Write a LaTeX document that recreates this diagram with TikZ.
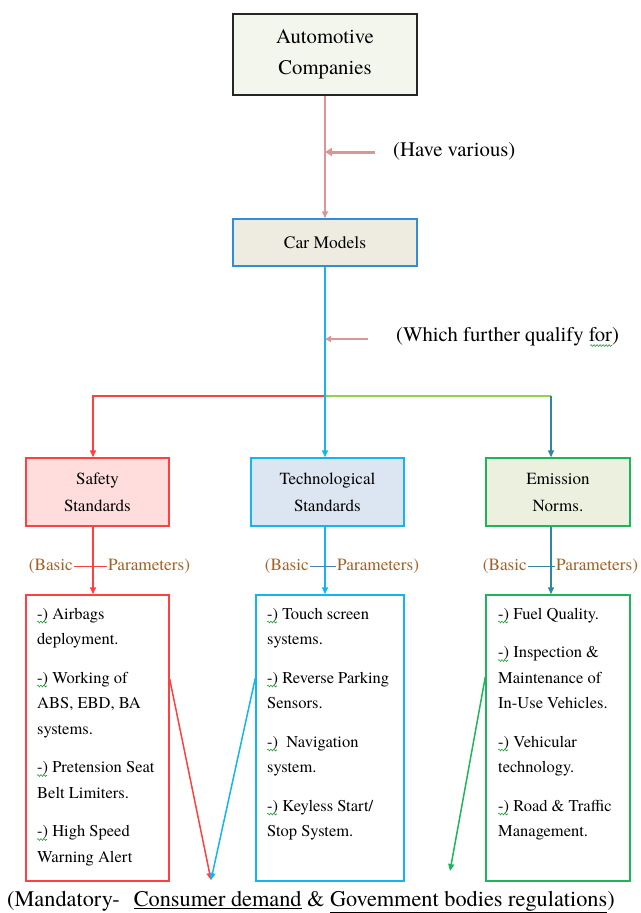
\documentclass[tikz,border=0pt]{standalone}
\usepackage{fontspec}
\IfFontExistsTF{texgyretermes-regular.otf}
  {\setmainfont{texgyretermes}[Extension=.otf, UprightFont=*-regular, BoldFont=*-bold, ItalicFont=*-italic, BoldItalicFont=*-bolditalic]}
  {\setmainfont{Liberation Serif}}
\usetikzlibrary{arrows.meta,calc,decorations.pathmorphing}
\definecolor{pinkln}{RGB}{217,150,148}
\definecolor{skyb}{RGB}{20,180,240}
\definecolor{redln}{RGB}{255,64,64}
\definecolor{grnln}{RGB}{146,208,80}
\definecolor{tealln}{RGB}{49,133,156}
\definecolor{grnbox}{RGB}{30,180,90}
\definecolor{brownt}{RGB}{165,95,35}
\definecolor{topfill}{RGB}{243,246,236}
\definecolor{carfill}{RGB}{238,236,225}
\definecolor{carbord}{RGB}{50,140,215}
\definecolor{safefill}{RGB}{255,221,221}
\definecolor{techfill}{RGB}{220,230,242}
\definecolor{emisfill}{RGB}{235,241,222}
\definecolor{midblue}{RGB}{79,129,189}
\definecolor{spellg}{RGB}{40,160,60}
\begin{document}
\begin{tikzpicture}[x=1pt,y=-1pt,
  box/.style={draw, line width=1.5pt, inner sep=0pt, align=center},
  tip/.style={-{Triangle[length=7pt,width=6pt]}},
  lnk/.style={line width=1.5pt},
  toptxt/.style={font=\fontsize{20.7}{31}\selectfont},
  headtxt/.style={font=\fontsize{17}{27}\selectfont},
  basictxt/.style={font=\fontsize{17.2}{20}\selectfont, text=brownt, inner sep=1pt},
  listtxt/.style={anchor=base west, inner sep=0pt, font=\fontsize{16.5}{25.5}\selectfont},
  squig/.style={draw=spellg, line width=0.6pt, decorate, decoration={snake, segment length=3pt, amplitude=0.9pt}}
]
\useasboundingbox (0,0) rectangle (640,913);

% top boxes
\node[box, draw=black!85, fill=topfill, minimum width=184pt, minimum height=81pt, toptxt] (auto) at (325,54.5) {Automotive\\Companies};
\node[box, draw=carbord, fill=carfill, minimum width=184pt, minimum height=47pt, font=\fontsize{17.5}{21}\selectfont] (car) at (325,242.5) {Car Models};
\draw[pinkln, lnk, tip] (auto.south) -- (car.north);

\node[anchor=west, inner sep=0pt, toptxt] (hvl) at (393,151) {(Have various)};
\draw[pinkln, line width=3pt, -{Triangle[length=7pt,width=8pt]}] ($(hvl.west)+(-18,1)$) -- (auto.south |- {$(hvl.west)+(0,1)$});

% standards boxes
\node[box, draw=redln, fill=safefill, minimum width=143pt, minimum height=68pt, headtxt] (safety) at (97.5,492) {Safety\\Standards};
\node[box, draw=skyb, fill=techfill, minimum width=153pt, minimum height=68pt, headtxt] (tech) at (327.5,492) {Technological\\Standards};
\node[box, draw=grnbox, fill=emisfill, minimum width=144pt, minimum height=68pt, headtxt] (emis) at (558,492) {Emission\\Norms.};

\coordinate (split) at (325,396);
\coordinate (sx) at (93,396);
\coordinate (ex) at (551,396);
\draw[redln, lnk, tip] (split) -- (sx) -- (sx |- safety.north);
\draw[grnln, lnk] (split) -- (ex);
\draw[tealln, lnk, tip] (ex) -- (ex |- emis.north);
\draw[skyb, line width=2pt, tip] (car.south) -- (car.south |- tech.north);

\node[anchor=west, inner sep=0pt, toptxt] (wfl) at (396,337) {(Which further qualify for)};
\draw[pinkln, lnk, -{Triangle[length=6pt,width=6pt]}] ($(wfl.west)+(-28,2)$) -- (car.south |- {$(wfl.west)+(0,2)$});
\path[squig] ($(wfl.south east)+(-29,-1)$) -- ($(wfl.south east)+(-7,-1)$);

% list boxes
\node[box, draw=redln, minimum width=143pt, minimum height=286pt] (slist) at (97.5,738) {};
\node[box, draw=skyb, minimum width=148pt, minimum height=286pt] (tlist) at (330,738) {};
\node[box, draw=grnbox, minimum width=144pt, minimum height=286pt] (elist) at (558,738) {};

\draw[redln, lnk, tip] (sx |- safety.south) -- (sx |- slist.north);
\draw[skyb, lnk, tip] (split |- tech.south) -- (split |- tlist.north);
\draw[tealln, lnk, tip] (ex |- emis.south) -- (ex |- elist.north);

% basic parameters labels
\node[basictxt, anchor=east] (sb) at (74,566) {(Basic};
\node[basictxt, anchor=west] (sp) at (107,566) {Parameters)};
\draw[redln, line width=1pt] (sb.east) -- (sp.west);
\node[basictxt, anchor=east] (tb) at (310,566) {(Basic};
\node[basictxt, anchor=west] (tp) at (336,566) {Parameters)};
\draw[midblue, line width=1pt] (tb.east) -- (tp.west);
\node[basictxt, anchor=east] (eb) at (528,566) {(Basic};
\node[basictxt, anchor=west] (ep) at (555,566) {Parameters)};
\draw[tealln, line width=1pt] (eb.east) -- (ep.west);

% list texts
\node[listtxt] (stext) at (37,619) {\begin{tabular}[t]{@{}l@{}}-) Airbags\\deployment.\\[13pt]-) Working of\\ABS, EBD, BA\\systems.\\[13pt]-) Pretension Seat\\Belt Limiters.\\[13pt]-) High Speed\\Warning Alert\end{tabular}};
\node[listtxt] (ttext) at (267,619) {\begin{tabular}[t]{@{}l@{}}-) Touch screen\\systems.\\[13pt]-) Reverse Parking\\Sensors.\\[13pt]-)\ \ Navigation\\system.\\[13pt]-) Keyless Start/\\Stop System.\end{tabular}};
\node[listtxt] (etext) at (498,619) {\begin{tabular}[t]{@{}l@{}}-) Fuel Quality.\\[13pt]-) Inspection \&\\Maintenance of\\In-Use Vehicles.\\[13pt]-) Vehicular\\technology.\\[13pt]-) Road \& Traffic\\Management.\end{tabular}};

% spell-check marks under "-)"
\foreach \yy in {619,683,772.5,836.5} \path[squig] (37,\yy+3) -- (47,\yy+3);
\foreach \yy in {619,683,747,811} \path[squig] (267,\yy+3) -- (277,\yy+3);
\foreach \yy in {619,657.5,747,811} \path[squig] (498,\yy+3) -- (508,\yy+3);

% bottom
\coordinate (mA) at (211,880);
\coordinate (mB) at (450,871);
\draw[redln, lnk, tip] ([yshift=-85pt]slist.north east) -- (mA);
\draw[skyb, lnk, tip] ([yshift=-84pt]tlist.north west) -- (mA);
\draw[grnbox, lnk, tip] ([yshift=-83pt]elist.north west) -- (mB);

\node[anchor=base west, inner sep=0pt, font=\fontsize{22.3}{26}\selectfont] (mand) at (7,906) {(Mandatory-\hspace{14pt}\underline{Consumer demand} \& \underline{Govemment bodies regulations})};
\end{tikzpicture}
\end{document}
